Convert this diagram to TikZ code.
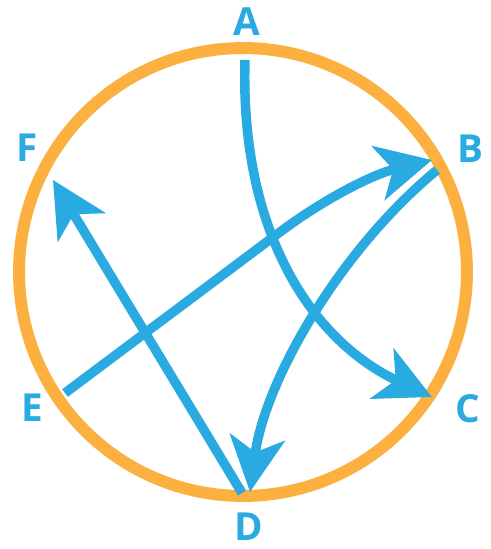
\documentclass[tikz,border=0pt]{standalone}
\usepackage{fontspec}
\setmainfont{Open Sans}
\usetikzlibrary{arrows.meta}
\definecolor{skyblue}{RGB}{41,170,225}
\definecolor{ringorange}{RGB}{251,176,64}

\begin{document}
\begin{tikzpicture}[x=0.02cm,y=-0.02cm,
    lbl/.style={text=skyblue,inner sep=0pt,font=\bfseries\fontsize{22}{26}\selectfont},
    arr/.style={draw=skyblue,line width=5.4pt,-{Stealth[length=1.1cm,width=1.1cm,inset=0.3cm]}}]
  \useasboundingbox (0,0) rectangle (491,549);
  \draw[ringorange,line width=6.8pt] (243,272) circle[radius=4.48cm];
  % labels round the ring
  \node[lbl] (A) at (247,22) {A};
  \node[lbl] (B) at (470,149) {B};
  \node[lbl] (C) at (468,409) {C};
  \node[lbl] (D) at (249,527) {D};
  \node[lbl] (E) at (32,408) {E};
  \node[lbl] (F) at (27,148) {F};
  % arrow ends
  \coordinate (a0) at (245,60);
  \coordinate (c1) at (432,397);
  \coordinate (b0) at (437,170);
  \coordinate (d1) at (250,492);
  \coordinate (e0) at (65,393);
  \coordinate (e1) at (280,232);
  \coordinate (b1) at (432,160);
  \coordinate (d0) at (242,493);
  \coordinate (f1) at (53,180);
  \draw[arr] (a0) .. controls (240,230) and (310,340) .. (c1);
  \draw[arr] (b0) .. controls (340,250) and (265,380) .. (d1);
  \draw[arr] (e0) -- (e1) .. controls (320,202) and (370,175) .. (b1);
  \draw[arr] (d0) -- (f1);
\end{tikzpicture}
\end{document}
